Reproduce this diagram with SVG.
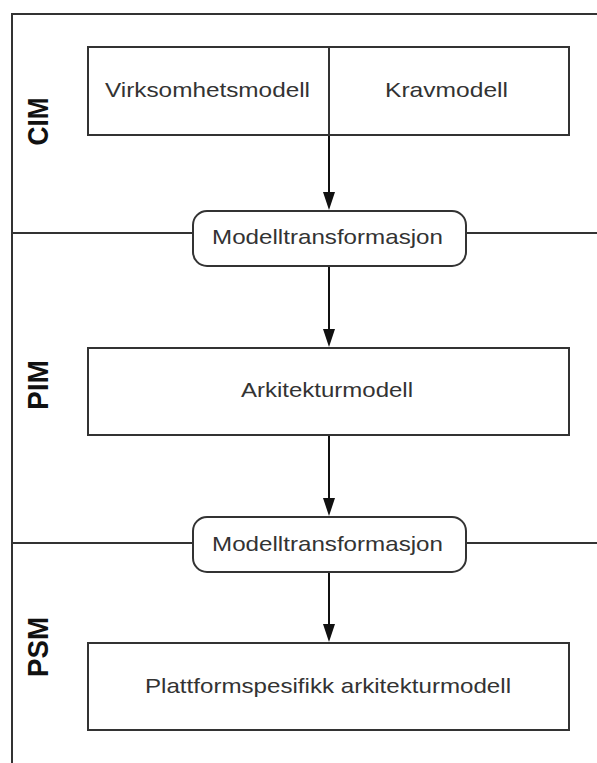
<svg xmlns="http://www.w3.org/2000/svg" width="597" height="763" viewBox="0 0 597 763">
  <defs>
    <style>
      .line { stroke: #333; stroke-width: 2; fill: none; }
      .box { fill: #fff; stroke: #333; stroke-width: 2; }
      .label { font-family: "Liberation Sans", Arial, sans-serif; font-size: 21px; fill: #333; text-anchor: middle; }
      .lane { font-family: "Liberation Sans", Arial, sans-serif; font-size: 26px; font-weight: bold; fill: #111; text-anchor: middle; }
      .conn { stroke: #111; stroke-width: 2; fill: none; }
      .head { fill: #111; }
    </style>
    <path id="head" class="head" d="M-6,-18 L6,-18 L0,0 Z"/>
  </defs>
  <rect width="597" height="763" fill="#fff"/>

  <!-- lane frame, separators and lane titles -->
  <g id="lanes">
    <path class="line" d="M597,14 H12 V763"/>
    <path class="line" d="M12,233 H193 M466,233 H597"/>
    <path class="line" d="M12,543 H193 M466,543 H597"/>
    <text class="lane" transform="translate(48,121.5) scale(1.15,1) rotate(-90)" textLength="48" lengthAdjust="spacingAndGlyphs">CIM</text>
    <text class="lane" transform="translate(48,385) scale(1.15,1) rotate(-90)" textLength="50" lengthAdjust="spacingAndGlyphs">PIM</text>
    <text class="lane" transform="translate(48,647) scale(1.15,1) rotate(-90)" textLength="60" lengthAdjust="spacingAndGlyphs">PSM</text>
  </g>

  <!-- connectors -->
  <g id="connectors">
    <line class="conn" x1="329" y1="47" x2="329" y2="200"/>
    <use href="#head" x="329" y="210"/>
    <line class="conn" x1="329" y1="266" x2="329" y2="336"/>
    <use href="#head" x="329" y="347"/>
    <line class="conn" x1="329" y1="435" x2="329" y2="505"/>
    <use href="#head" x="329" y="516"/>
    <line class="conn" x1="329" y1="572" x2="329" y2="631"/>
    <use href="#head" x="329" y="642"/>
  </g>

  <g id="cim-models">
    <rect class="box" x="88" y="47" width="481" height="88"/>
    <line class="line" x1="329" y1="47" x2="329" y2="135"/>
    <text class="label" x="207.5" y="97" textLength="205" lengthAdjust="spacingAndGlyphs">Virksomhetsmodell</text>
    <text class="label" x="446.5" y="97" textLength="123" lengthAdjust="spacingAndGlyphs">Kravmodell</text>
  </g>

  <g id="transform-1">
    <rect class="box" x="193" y="211" width="273" height="55" rx="14"/>
    <text class="label" x="327.5" y="244" textLength="231" lengthAdjust="spacingAndGlyphs">Modelltransformasjon</text>
  </g>

  <g id="architecture-model">
    <rect class="box" x="88" y="348" width="481" height="87"/>
    <text class="label" x="327" y="397" textLength="172" lengthAdjust="spacingAndGlyphs">Arkitekturmodell</text>
  </g>

  <g id="transform-2">
    <rect class="box" x="193" y="517" width="273" height="55" rx="14"/>
    <text class="label" x="327.5" y="551" textLength="231" lengthAdjust="spacingAndGlyphs">Modelltransformasjon</text>
  </g>

  <g id="platform-model">
    <rect class="box" x="88" y="643" width="481" height="87"/>
    <text class="label" x="328" y="693" textLength="366" lengthAdjust="spacingAndGlyphs">Plattformspesifikk arkitekturmodell</text>
  </g>
</svg>
